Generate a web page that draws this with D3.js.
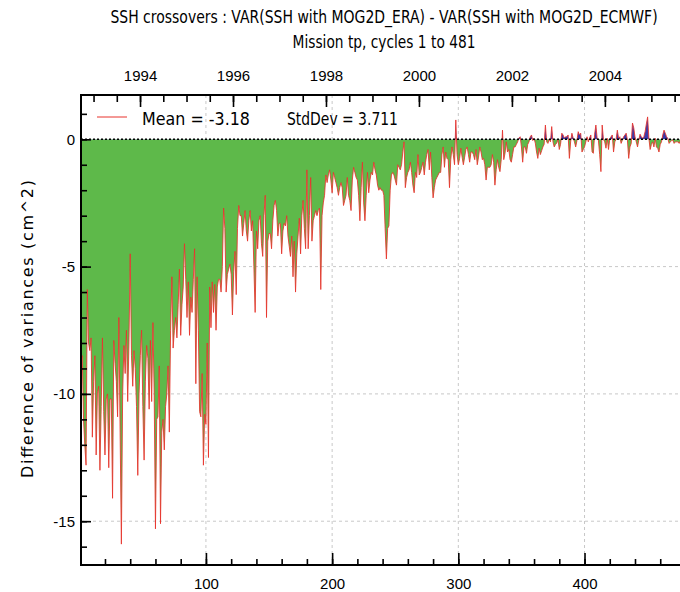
<!DOCTYPE html>
<html>
<head>
<meta charset="utf-8">
<script src="https://cdn.jsdelivr.net/npm/d3@7"></script>
<style>
  body { margin: 0; background: #fff; }
  svg { display: block; font-family: "DejaVu Sans", sans-serif; }
  .tick text { font-size: 15px; fill: #000; }
  .tick line { stroke: #000; stroke-width: 1.6; }
</style>
</head>
<body>
<svg id="chart" width="680" height="592"></svg>
<script>
// TOPEX/Poseidon (tp) cycles 1..481, difference of SSH variances (cm^2)
var varDiff = [
  -8.7,-8.5,-11.0,-12.0,-12.8,-5.9,-8.0,-8.3,-7.8,-11.7,
  -9.5,-8.5,-12.4,-10.0,-9.7,-13.0,-10.5,-7.8,-10.7,-12.4,
  -10.2,-10.0,-12.9,-10.2,-10.2,-14.1,-7.9,-8.8,-9.5,-10.9,
  -7.0,-11.5,-15.9,-10.0,-8.1,-9.2,-7.5,-10.3,-8.0,-4.5,
  -8.5,-9.7,-8.3,-9.0,-10.5,-13.2,-10.0,-8.5,-7.5,-10.5,
  -12.6,-9.5,-8.1,-8.6,-10.6,-7.9,-10.3,-7.2,-10.0,-15.3,
  -11.0,-10.9,-8.9,-15.1,-11.5,-11.0,-12.2,-10.5,-10.0,-8.9,
  -11.5,-7.5,-5.4,-8.2,-7.5,-7.0,-7.8,-6.5,-5.1,
  -7.7,-6.5,-5.8,-4.1,-5.5,-7.0,-5.6,-7.7,-6.2,-6.8,
  -5.5,-4.3,-9.6,-5.4,-7.5,-10.7,-10.9,-9.2,-12.8,-10.8,
  -11.2,-8.0,-12.5,-5.8,-7.4,-5.6,-6.8,-5.7,-7.5,-5.8,
  -5.5,-5.5,-6.0,-5.0,-2.7,-3.5,-6.0,-5.3,-5.1,-4.9,
  -5.3,-6.9,-5.2,-4.4,-6.1,-3.5,-2.6,-3.0,-3.0,-3.8,
  -3.3,-2.8,-3.6,-4.0,-3.2,-2.8,-3.6,-3.2,-5.0,-6.8,
  -3.6,-4.3,-3.2,-3.0,-4.1,-4.6,-3.0,-2.2,-7.0,-4.0,
  -3.7,-3.7,-4.3,-3.2,-2.6,-2.4,-2.8,-3.8,-3.3,
  -3.3,-4.5,-3.6,-3.3,-3.4,-3.0,-3.8,-4.2,-4.6,-3.8,
  -5.4,-4.0,-6.0,-4.5,-3.8,-3.1,-4.5,-3.0,-2.4,-3.5,
  -4.3,-1.2,-4.3,-3.0,-1.5,-4.0,-3.2,-3.0,-2.8,-3.0,
  -2.8,-2.7,-5.9,-3.0,-2.5,-2.2,-1.4,-1.7,-1.4,-1.2,
  -1.6,-2.1,-1.3,-1.5,-1.7,-1.9,-2.2,-1.9,-1.7,-1.9,
  -2.6,-2.4,-2.2,-1.5,-2.2,-2.4,-2.8,-1.6,-1.1,-1.3,
  -1.5,-1.6,-2.2,-3.2,-1.9,-0.9,-2.5,-3.2,-2.2,-1.3,
  -2.1,-1.6,-1.3,-1.4,-0.9,-1.2,-1.4,-1.8,-2.0,
  -1.9,-2.0,-2.0,-2.2,-3.5,-4.7,-3.5,-3.4,-2.0,-1.4,
  -1.3,-1.4,-1.6,-1.8,-1.0,-1.1,-1.2,-1.0,-0.5,-0.1,
  -1.9,-1.5,-1.3,-1.2,-0.9,-1.3,-1.8,-2.1,-1.3,-1.5,
  -0.6,-1.4,-1.3,-1.1,-0.9,-1.4,-0.9,-0.6,-0.4,-1.2,
  -0.5,-1.5,-2.3,-1.9,-1.6,-1.5,-1.4,-1.3,-1.3,-0.6,
  -0.3,-1.1,-0.5,-0.75,-0.8,-1.9,-0.8,-0.3,-0.6,-1.0,
  0.76,-0.6,-1.0,-0.75,-0.35,-0.7,-1.0,-0.7,-0.4,-0.3,
  -0.6,-0.9,-0.5,-0.5,-0.6,-0.8,-0.4,-1.0,-0.7,-0.3,
  -0.5,-0.8,-0.75,-1.0,-1.6,-1.1,-1.1,-1.1,-1.0,-0.6,
  -0.9,-1.8,-1.2,-0.8,-1.1,-1.27,-0.8,0.36,-0.8,-0.55,
  -0.1,-0.5,-0.4,-0.8,-0.9,-0.6,-0.3,-0.3,-0.2,-0.1,
  0.05,0.1,-0.3,-0.9,-0.3,-0.3,-0.55,-0.2,-0.1,0.1,
  0.17,-0.05,0.04,-0.15,-0.5,-0.75,-0.35,-0.6,-0.45,-0.3,
  -0.2,0.56,-0.1,-0.16,0.0,-0.1,0.5,-0.1,-0.3,-0.2,
  -0.15,0.0,-0.4,-0.2,0.24,0.17,0.05,0.1,0.1,0.17,
  -0.75,-0.1,0.24,0.05,-0.1,-0.3,-0.05,0.3,0.17,
  0.24,-0.5,-0.4,-0.3,-0.1,0.1,-0.1,0.05,0.17,-0.5,
  -0.55,0.2,0.56,0.04,-0.03,-0.6,-1.27,0.56,0.0,-0.1,
  -0.35,0.04,-0.4,0.0,0.1,0.17,-0.5,-0.1,0.0,0.36,
  0.05,0.1,-0.16,-0.03,0.1,0.17,0.24,-0.03,-0.75,-0.3,
  -0.16,0.64,0.45,0.1,-0.1,-0.3,-0.03,0.2,0.1,0.04,
  0.1,0.3,0.6,0.88,0.04,-0.4,-0.2,-0.1,-0.3,0.04,
  -0.3,-0.35,-0.5,-0.2,-0.1,0.17,0.36,0.24,0.1,0.04,
  -0.16,-0.1,-0.05,-0.03,-0.16,-0.1,-0.1,-0.1,-0.16,-0.05,
  -0.1,-0.05,-0.1,-0.08,-0.1
];

var cycleTicks = [100, 200, 300, 400];
var yearTicks = [1994, 1996, 1998, 2000, 2002, 2004];
var yTicks = [0, -5, -10, -15];
var titleLines = ["SSH crossovers : VAR(SSH with MOG2D_ERA) - VAR(SSH with MOG2D_ECMWF)",
                  "Mission tp, cycles 1 to 481"];
var legendTexts = ["Mean = -3.18", "StdDev = 3.711"];

// plot box (right side runs past the window, like the original)
var pLeft = 81, pRight = 688, pTop = 95, pBottom = 565;

var svg = d3.select("#chart");

var x = d3.scaleLinear().domain([1, 482]).range([pLeft, pRight]);
var y = d3.scaleLinear().domain([-16.72, 1.74]).range([pBottom, pTop]);

// cycle -> decimal year (tp cycle = 9.9156 days, cycle 1 ~ 1992.73)
function yearOf(c) { return 1992.73 + (c - 1) * 9.9156 / 365.25; }
var yr = d3.scaleLinear().domain([yearOf(1), yearOf(482)]).range([pLeft, pRight]);

var data = varDiff.map(function(v, i) { return {c: i + 1, v: v}; });

// grid
var grid = svg.append("g").attr("stroke", "#c8c8c8").attr("stroke-dasharray", "3,3").attr("stroke-width", 1);
grid.selectAll(".gx").data(cycleTicks).enter().append("line")
    .attr("x1", function(d) { return x(d); }).attr("x2", function(d) { return x(d); })
    .attr("y1", pTop).attr("y2", pBottom);
grid.selectAll(".gy").data([-5, -10, -15]).enter().append("line")
    .attr("x1", pLeft).attr("x2", pRight)
    .attr("y1", function(d) { return y(d); }).attr("y2", function(d) { return y(d); });

// fills, split at zero with clip paths
var defs = svg.append("defs");
defs.append("clipPath").attr("id", "clipNeg").append("rect")
    .attr("x", pLeft).attr("y", y(0)).attr("width", pRight - pLeft).attr("height", pBottom - y(0));
defs.append("clipPath").attr("id", "clipPos").append("rect")
    .attr("x", pLeft).attr("y", pTop).attr("width", pRight - pLeft).attr("height", y(0) - pTop);

var area = d3.area()
    .x(function(d) { return x(d.c); })
    .y0(y(0))
    .y1(function(d) { return y(d.v); });

svg.append("path").datum(data).attr("d", area)
    .attr("fill", "#5eb94a").attr("clip-path", "url(#clipNeg)");
svg.append("path").datum(data).attr("d", area)
    .attr("fill", "#3d3aa8").attr("clip-path", "url(#clipPos)");

var line = d3.line()
    .x(function(d) { return x(d.c); })
    .y(function(d) { return y(d.v); });

svg.append("path").datum(data).attr("d", line)
    .attr("fill", "none").attr("stroke", "#e8322c").attr("stroke-width", 1)
    .attr("stroke-opacity", 0.85);

// zero line
svg.append("line")
    .attr("x1", pLeft).attr("x2", pRight).attr("y1", y(0)).attr("y2", y(0))
    .attr("stroke", "#000").attr("stroke-width", 1.5).attr("stroke-dasharray", "2,2");

// axes
function noDomain(g) { g.select(".domain").remove(); }

svg.append("g").attr("transform", "translate(" + pLeft + ",0)")
    .call(d3.axisLeft(y).tickValues(d3.range(-16, 2)).tickSize(-6).tickFormat(""))
    .call(noDomain);
svg.append("g").attr("transform", "translate(" + pLeft + ",0)")
    .call(d3.axisLeft(y).tickValues(yTicks).tickSize(-10).tickPadding(6)
      .tickFormat(function(d) { return String(d); }))
    .call(noDomain);

svg.append("g").attr("transform", "translate(0," + pBottom + ")")
    .call(d3.axisBottom(x).tickValues(d3.range(20, 482, 20)).tickSize(-6).tickFormat(""))
    .call(noDomain);
svg.append("g").attr("transform", "translate(0," + pBottom + ")")
    .call(d3.axisBottom(x).tickValues(cycleTicks).tickSize(-12).tickPadding(13)
      .tickFormat(function(d) { return String(d); }))
    .call(noDomain);

svg.append("g").attr("transform", "translate(0," + pTop + ")")
    .call(d3.axisTop(yr).tickValues(d3.range(1993, 2006, 0.5)).tickSize(-7).tickFormat(""))
    .call(noDomain);
svg.append("g").attr("transform", "translate(0," + pTop + ")")
    .call(d3.axisTop(yr).tickValues(yearTicks).tickSize(-12).tickPadding(14)
      .tickFormat(function(d) { return String(d); }))
    .call(noDomain);

// frame
var frame = svg.append("g").attr("stroke", "#000").attr("stroke-width", 2);
frame.append("line").attr("x1", pLeft).attr("x2", pLeft).attr("y1", pTop).attr("y2", pBottom);
frame.append("line").attr("x1", pLeft - 1).attr("x2", pRight).attr("y1", pBottom).attr("y2", pBottom);
frame.append("line").attr("x1", pLeft - 1).attr("x2", pRight).attr("y1", pTop).attr("y2", pTop);

// titles: no condensed font installed, so squeeze horizontally to the original widths
var titleWidths = [548, 183];
svg.selectAll(".title").data(titleLines).enter().append("text")
    .attr("text-anchor", "middle").style("font-size", "17px")
    .text(function(d) { return d; })
    .each(function(d, i) {
      var w = this.getComputedTextLength();
      d3.select(this).attr("transform",
        "translate(384," + (23 + i * 25) + ") scale(" + (titleWidths[i] / w) + ",1)");
    });

svg.append("text")
    .attr("transform", "translate(33,329) rotate(-90)")
    .attr("text-anchor", "middle")
    .style("font-size", "16px")
    .attr("textLength", 298).attr("lengthAdjust", "spacing")
    .text("Difference of variances (cm^2)");

// legend
svg.append("line").attr("x1", 97).attr("x2", 127).attr("y1", 117).attr("y2", 117)
    .attr("stroke", "#e8322c").attr("stroke-width", 1);
var legendWidths = [108, 111];
svg.selectAll(".leg").data(legendTexts).enter().append("text")
    .style("font-size", "18.5px")
    .text(function(d) { return d; })
    .each(function(d, i) {
      var w = this.getComputedTextLength();
      d3.select(this).attr("transform",
        "translate(" + (i === 0 ? 142 : 287) + ",125) scale(" + (legendWidths[i] / w) + ",1)");
    });
</script>
</body>
</html>
